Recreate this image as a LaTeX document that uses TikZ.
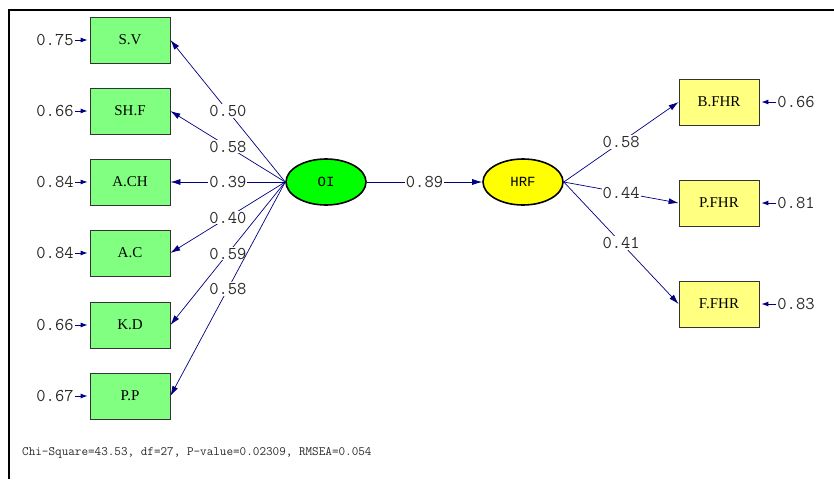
\documentclass[tikz,border=0pt]{standalone}
\usepackage{fontspec}
\setmainfont{Liberation Serif}
\newfontfamily\monofnt{Liberation Mono}
\usetikzlibrary{arrows.meta,shapes.geometric}
\definecolor{boxgreen}{HTML}{80FF80}
\definecolor{latgreen}{HTML}{00FF00}
\definecolor{latyellow}{HTML}{FFFF00}
\definecolor{boxyellow}{HTML}{FFFF80}
\definecolor{pathblue}{HTML}{000080}
\definecolor{numgray}{HTML}{2A2A2A}
\tikzset{
  obsbox/.style={draw=black!80, line width=0.8pt, minimum width=80pt, minimum height=46pt, inner sep=0pt, font=\fontsize{15}{15}\selectfont},
  lgreen/.style={obsbox, fill=boxgreen},
  lyellow/.style={obsbox, fill=boxyellow},
  latent/.style={ellipse, draw=black, line width=1.6pt, minimum width=80pt, minimum height=46pt, inner sep=0pt, font=\monofnt\fontsize{14}{14}\selectfont},
  errlbl/.style={text=numgray, font=\ttfamily\fontsize{18}{18}\selectfont, inner sep=1pt},
  pathlbl/.style={fill=white, text=numgray, font=\ttfamily\fontsize{18}{18}\selectfont, inner sep=1pt, pos=0.5},
  patharr/.style={draw=pathblue, line width=0.7pt, -{Latex[length=10pt,width=6pt]}},
  errarr/.style={draw=pathblue, line width=0.9pt, -{Latex[length=7pt,width=5pt]}, shorten >=2pt},
}
\begin{document}
\begin{tikzpicture}[x=1pt,y=-1pt]
\useasboundingbox (0,0) rectangle (834,479);
\draw[line width=2.6pt] (834,10) -- (9,10) -- (9,479);
% left observed
\node[lgreen] (SV) at (130,40) {S.V};
\node[lgreen] (SHF) at (130,111) {SH.F};
\node[lgreen] (ACH) at (130,182) {A.CH};
\node[lgreen] (AC) at (130,253) {A.C};
\node[lgreen] (KD) at (130,325) {K.D};
\node[lgreen] (PP) at (130,396) {P.P};
% latent
\node[latent, fill=latgreen] (OI) at (326,182) {OI};
\node[latent, fill=latyellow] (HRF) at (523,182) {HRF};
% right observed
\node[lyellow] (BFHR) at (719,102) {B.FHR};
\node[lyellow] (PFHR) at (719,203) {P.FHR};
\node[lyellow] (FFHR) at (719,304) {F.FHR};
% error terms left
\node[errlbl] (eSV) at (55,40) {0.75};
\node[errlbl] (eSHF) at (55,111) {0.66};
\node[errlbl] (eACH) at (55,182) {0.84};
\node[errlbl] (eAC) at (55,253) {0.84};
\node[errlbl] (eKD) at (55,325) {0.66};
\node[errlbl] (ePP) at (55,396) {0.67};
\foreach \e/\b in {eSV/SV,eSHF/SHF,eACH/ACH,eAC/AC,eKD/KD,ePP/PP}
  \draw[errarr] (\e.east) -- (\b.west);
% error terms right
\node[errlbl] (eBFHR) at (796,102) {0.66};
\node[errlbl] (ePFHR) at (796,203) {0.81};
\node[errlbl] (eFFHR) at (796,304) {0.83};
\foreach \e/\b in {eBFHR/BFHR,ePFHR/PFHR,eFFHR/FFHR}
  \draw[errarr] (\e.west) -- (\b.east);
% loadings
\draw[patharr] (OI.west) -- node[pathlbl]{0.50} (SV.east);
\draw[patharr] (OI.west) -- node[pathlbl]{0.58} (SHF.east);
\draw[patharr] (OI.west) -- node[pathlbl]{0.39} (ACH.east);
\draw[patharr] (OI.west) -- node[pathlbl]{0.40} (AC.east);
\draw[patharr] (OI.west) -- node[pathlbl]{0.59} (KD.east);
\draw[patharr] (OI.west) -- node[pathlbl]{0.58} (PP.east);
\draw[patharr] (OI.east) -- node[pathlbl]{0.89} (HRF.west);
\draw[patharr] (HRF.east) -- node[pathlbl]{0.58} (BFHR.west);
\draw[patharr] (HRF.east) -- node[pathlbl]{0.44} (PFHR.west);
\draw[patharr] (HRF.east) -- node[pathlbl]{0.41} (FFHR.west);
% fit statistics
\node[anchor=west, inner sep=0pt, font=\ttfamily\fontsize{12.8}{12.8}\selectfont, text=numgray] (fit) at (22,453) {Chi-Square=43.53, df=27, P-value=0.02309, RMSEA=0.054};
\end{tikzpicture}
\end{document}
